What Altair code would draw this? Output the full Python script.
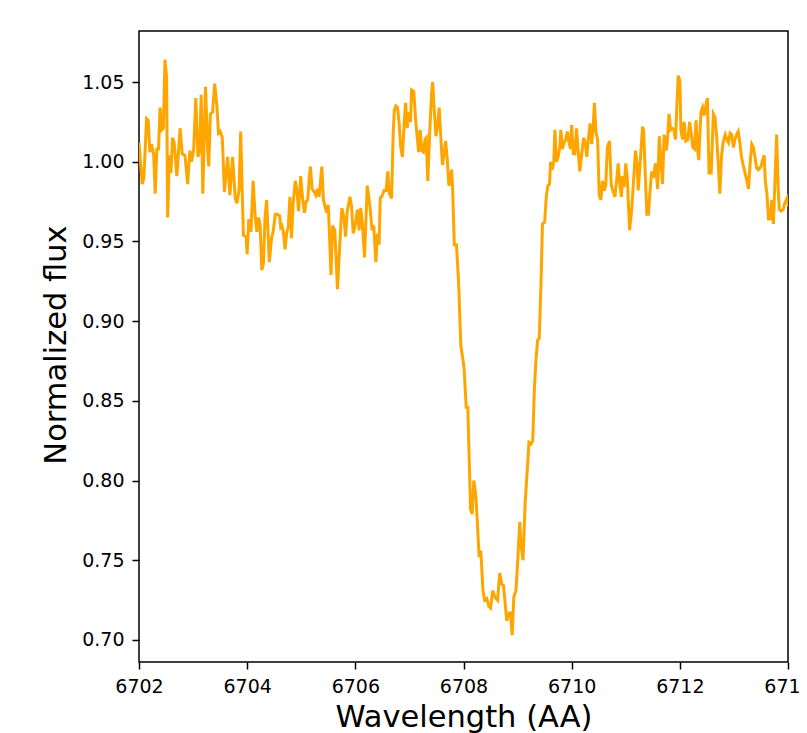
import altair as alt
import pandas as pd

wavelength = [
    6702.00, 6702.06, 6702.09, 6702.14, 6702.17, 6702.20, 6702.23, 6702.27, 6702.30, 6702.33,
    6702.36, 6702.39, 6702.42, 6702.45, 6702.48, 6702.51, 6702.53, 6702.56, 6702.59, 6702.62,
    6702.65, 6702.70, 6702.76, 6702.80, 6702.85, 6702.90, 6702.94, 6702.97, 6703.01, 6703.05,
    6703.09, 6703.12, 6703.15, 6703.18, 6703.23, 6703.27, 6703.29, 6703.32, 6703.36, 6703.40,
    6703.44, 6703.47, 6703.50, 6703.54, 6703.58, 6703.64, 6703.68, 6703.73, 6703.78, 6703.81,
    6703.85, 6703.88, 6703.93, 6703.98, 6704.00, 6704.03, 6704.07, 6704.11, 6704.15, 6704.18,
    6704.21, 6704.24, 6704.27, 6704.30, 6704.33, 6704.36, 6704.41, 6704.45, 6704.48, 6704.52,
    6704.56, 6704.60, 6704.62, 6704.64, 6704.67, 6704.70, 6704.73, 6704.76, 6704.79, 6704.82,
    6704.85, 6704.89, 6704.92, 6704.95, 6704.99, 6705.03, 6705.06, 6705.09, 6705.12, 6705.15,
    6705.17, 6705.20, 6705.24, 6705.27, 6705.30, 6705.33, 6705.38, 6705.41, 6705.44, 6705.47,
    6705.50, 6705.55, 6705.58, 6705.62, 6705.67, 6705.70, 6705.75, 6705.79, 6705.82, 6705.85,
    6705.90, 6705.93, 6705.96, 6705.99, 6706.04, 6706.07, 6706.10, 6706.13, 6706.17, 6706.22,
    6706.27, 6706.31, 6706.34, 6706.38, 6706.41, 6706.44, 6706.46, 6706.50, 6706.53, 6706.57,
    6706.60, 6706.63, 6706.67, 6706.70, 6706.72, 6706.75, 6706.78, 6706.81, 6706.84, 6706.87,
    6706.91, 6706.93, 6706.96, 6706.98, 6707.02, 6707.04, 6707.08, 6707.12, 6707.17, 6707.20,
    6707.23, 6707.26, 6707.29, 6707.31, 6707.34, 6707.38, 6707.41, 6707.43, 6707.45, 6707.49,
    6707.52, 6707.55, 6707.58, 6707.61, 6707.64, 6707.67, 6707.70, 6707.73, 6707.75, 6707.78,
    6707.80, 6707.83, 6707.87, 6707.91, 6707.95, 6708.01, 6708.05, 6708.08, 6708.13, 6708.16,
    6708.19, 6708.23, 6708.29, 6708.32, 6708.36, 6708.39, 6708.43, 6708.47, 6708.50, 6708.54,
    6708.58, 6708.63, 6708.67, 6708.71, 6708.74, 6708.80, 6708.84, 6708.87, 6708.90, 6708.93,
    6708.97, 6709.00, 6709.04, 6709.06, 6709.10, 6709.14, 6709.18, 6709.21, 6709.25, 6709.28,
    6709.31, 6709.34, 6709.37, 6709.40, 6709.43, 6709.46, 6709.50, 6709.53, 6709.56, 6709.59,
    6709.61, 6709.64, 6709.67, 6709.69, 6709.72, 6709.75, 6709.78, 6709.80, 6709.83, 6709.86,
    6709.89, 6709.92, 6709.95, 6709.98, 6710.00, 6710.03, 6710.06, 6710.09, 6710.12, 6710.15,
    6710.19, 6710.22, 6710.25, 6710.28, 6710.31, 6710.34, 6710.37, 6710.40, 6710.42, 6710.45,
    6710.48, 6710.51, 6710.54, 6710.57, 6710.60, 6710.63, 6710.66, 6710.70, 6710.73, 6710.76,
    6710.80, 6710.84, 6710.86, 6710.89, 6710.92, 6710.94, 6710.97, 6711.00, 6711.03, 6711.07,
    6711.11, 6711.14, 6711.18, 6711.21, 6711.23, 6711.27, 6711.31, 6711.33, 6711.36, 6711.39,
    6711.42, 6711.45, 6711.48, 6711.51, 6711.55, 6711.59, 6711.62, 6711.65, 6711.68, 6711.71,
    6711.75, 6711.77, 6711.80, 6711.83, 6711.86, 6711.89, 6711.92, 6711.95, 6711.97, 6712.00,
    6712.02, 6712.05, 6712.08, 6712.11, 6712.15, 6712.18, 6712.21, 6712.24, 6712.27, 6712.30,
    6712.33, 6712.35, 6712.39, 6712.42, 6712.45, 6712.48, 6712.51, 6712.54, 6712.58, 6712.62,
    6712.65, 6712.68, 6712.71, 6712.74, 6712.77, 6712.80, 6712.84, 6712.87, 6712.90, 6712.93,
    6712.96, 6712.99, 6713.02, 6713.05, 6713.08, 6713.11, 6713.14, 6713.19, 6713.22, 6713.27,
    6713.30, 6713.33, 6713.36, 6713.39, 6713.42, 6713.45, 6713.50, 6713.53, 6713.56, 6713.58,
    6713.61, 6713.64, 6713.67, 6713.70, 6713.73, 6713.76, 6713.79, 6713.82, 6713.84, 6713.87,
    6713.91, 6713.94, 6713.98, 6714.01,
]

flux = [
    1.012, 0.986, 0.990, 1.027, 1.026, 1.006, 1.011, 1.005, 0.980, 1.008,
    1.008, 1.034, 1.020, 1.021, 1.064, 1.053, 0.965, 1.004, 0.993, 1.015,
    1.012, 0.991, 1.021, 1.005, 1.004, 0.986, 1.007, 1.000, 1.007, 1.040,
    1.003, 1.007, 1.042, 0.980, 1.047, 1.007, 0.997, 1.030, 1.031, 1.049,
    1.035, 1.018, 1.019, 1.015, 0.981, 1.003, 0.979, 1.003, 0.977, 0.974,
    0.982, 1.019, 0.954, 0.953, 0.942, 0.964, 0.956, 0.988, 0.965, 0.956,
    0.965, 0.960, 0.932, 0.936, 0.965, 0.976, 0.937, 0.952, 0.956, 0.967,
    0.967, 0.966, 0.959, 0.960, 0.956, 0.945, 0.955, 0.959, 0.978, 0.952,
    0.974, 0.988, 0.982, 0.969, 0.991, 0.975, 0.968, 0.975, 0.976, 0.991,
    0.997, 0.983, 0.981, 0.979, 0.983, 0.978, 0.997, 0.976, 0.972, 0.968,
    0.973, 0.929, 0.960, 0.957, 0.920, 0.940, 0.971, 0.965, 0.953, 0.969,
    0.978, 0.972, 0.955, 0.959, 0.970, 0.957, 0.971, 0.961, 0.940, 0.985,
    0.972, 0.957, 0.960, 0.937, 0.955, 0.948, 0.977, 0.979, 0.982, 0.982,
    0.994, 0.980, 0.977, 1.018, 1.032, 1.035, 1.034, 1.024, 1.009, 1.003,
    1.028, 1.037, 1.021, 1.031, 1.025, 1.045, 1.044, 1.024, 1.006, 1.020,
    1.007, 1.006, 1.014, 1.015, 0.988, 1.022, 1.043, 1.050, 1.037, 1.016,
    1.022, 1.034, 1.016, 0.998, 1.005, 1.013, 1.001, 0.985, 0.987, 0.995,
    0.982, 0.948, 0.948, 0.924, 0.885, 0.871, 0.846, 0.846, 0.782, 0.779,
    0.800, 0.790, 0.752, 0.756, 0.731, 0.725, 0.726, 0.721, 0.720, 0.731,
    0.727, 0.725, 0.742, 0.735, 0.734, 0.712, 0.717, 0.717, 0.703, 0.727,
    0.731, 0.748, 0.774, 0.761, 0.750, 0.786, 0.807, 0.824, 0.823, 0.825,
    0.857, 0.876, 0.888, 0.889, 0.920, 0.961, 0.962, 0.978, 0.985, 0.986,
    1.000, 0.995, 1.000, 1.020, 1.000, 1.003, 1.009, 1.020, 1.008, 1.012,
    1.014, 1.019, 1.012, 1.008, 1.023, 1.005, 1.005, 1.021, 1.007, 0.994,
    1.006, 1.015, 1.012, 1.003, 1.015, 1.024, 1.011, 1.023, 1.037, 1.018,
    1.014, 0.979, 0.976, 0.988, 0.982, 0.985, 1.009, 1.013, 0.986, 0.982,
    0.978, 0.991, 0.999, 0.986, 0.978, 0.991, 0.984, 0.999, 0.989, 0.957,
    0.970, 0.986, 1.007, 0.999, 0.982, 1.001, 1.022, 1.020, 0.993, 0.967,
    0.967, 0.982, 0.994, 0.990, 0.999, 0.983, 1.016, 1.001, 0.986, 1.017,
    1.007, 1.013, 1.030, 1.020, 1.021, 1.020, 1.014, 1.039, 1.054, 1.051,
    1.020, 1.014, 1.025, 1.013, 1.014, 1.025, 1.018, 1.009, 1.008, 1.026,
    1.007, 1.001, 1.031, 1.034, 1.029, 1.035, 1.040, 0.993, 0.993, 1.030,
    1.028, 1.016, 0.999, 0.980, 1.003, 1.012, 1.017, 1.014, 1.012, 1.018,
    1.017, 1.009, 1.014, 1.017, 1.019, 1.012, 1.003, 0.995, 0.991, 0.983,
    0.999, 1.011, 1.009, 1.003, 0.996, 0.995, 0.997, 1.001, 1.004, 0.988,
    0.980, 0.964, 0.964, 0.976, 0.961, 0.989, 1.017, 0.982, 0.970, 0.969,
    0.970, 0.974, 0.977, 0.972,
]

x_ticks = [6702, 6704, 6706, 6708, 6710, 6712, 6714]
y_ticks = [0.70, 0.75, 0.80, 0.85, 0.90, 0.95, 1.00, 1.05]

df = pd.DataFrame({"wavelength": wavelength, "flux": flux})

chart = (
    alt.Chart(df)
    .mark_line(color="#FFA500", strokeWidth=3, clip=True)
    .encode(
        x=alt.X(
            "wavelength:Q",
            scale=alt.Scale(domain=[6702, 6714], nice=False, zero=False),
            axis=alt.Axis(
                values=x_ticks,
                format="d",
                title="Wavelength (AA)",
                titleY=64,
                titleBaseline="alphabetic",
                labelPadding=8,
                labelFlush=False,
            ),
        ),
        y=alt.Y(
            "flux:Q",
            scale=alt.Scale(domain=[0.6862, 1.082], nice=False, zero=False),
            axis=alt.Axis(
                values=y_ticks,
                format=".2f",
                title="Normalized flux",
                titleX=-74,
                titleY=313.5,
                titleAngle=270,
                titleBaseline="alphabetic",
                titleAlign="center",
                labelPadding=8,
                labelFlush=False,
            ),
        ),
    )
    .properties(
        width=649,
        height=631,
        autosize=alt.AutoSizeParams(type="none"),
        padding={"left": 131, "top": 23, "right": 11, "bottom": 71},
    )
    .configure_view(stroke="black", strokeWidth=1.5)
    .configure_axis(
        grid=False,
        domain=False,
        ticks=True,
        tickColor="black",
        tickWidth=1.5,
        tickSize=7,
        labelFont="DejaVu Sans",
        labelFontSize=19,
        labelColor="black",
        titleFont="DejaVu Sans",
        titleFontSize=30.5,
        titleFontWeight="normal",
        titleColor="black",
    )
)

chart.save("out.html", embed_options={"renderer": "svg", "actions": False})
